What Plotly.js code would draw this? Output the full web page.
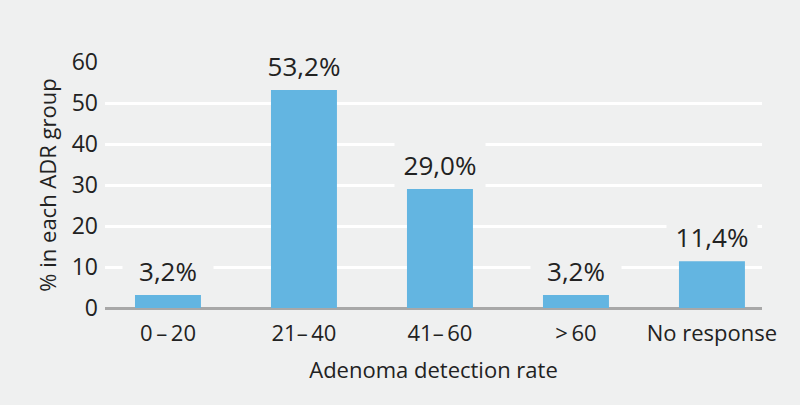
<!DOCTYPE html>
<html>
<head>
<meta charset="utf-8">
<script src="https://cdn.plot.ly/plotly-3.0.1.min.js"></script>
<style>html,body{margin:0;padding:0;background:#eff0f0;}</style>
</head>
<body>
<div id="chart" style="width:800px;height:405px;"></div>
<script>
var categories = ["0\u2009\u2013\u200920", "21\u2013\u200940", "41\u2013\u200960", ">\u200960", "No response"];
var values = [3.2, 53.2, 29.0, 3.2, 11.4];
var valueLabels = ["3,2%", "53,2%", "29,0%", "3,2%", "11,4%"];
var yTicks = [0, 10, 20, 30, 40, 50, 60];

var bg = "#eff0f0";
var textColor = "#222222";
var fontFam = "Open Sans, Noto Sans, sans-serif";

var trace = {
  type: "bar",
  x: categories,
  y: values,
  marker: {color: "#63b5e1"},
  hoverinfo: "none"
};

var annotations = categories.map(function (c, i) {
  return {
    x: c, y: values[i], xref: "x", yref: "y",
    text: valueLabels[i], showarrow: false,
    yanchor: "middle", yshift: 24,
    font: {family: fontFam, size: 26, color: textColor},
    bgcolor: bg, width: 80, borderpad: 5
  };
});

var layout = {
  width: 800, height: 405,
  paper_bgcolor: bg, plot_bgcolor: bg,
  margin: {l: 105, r: 38, t: 62, b: 97},
  bargap: 0.515,
  showlegend: false,
  font: {family: fontFam, color: textColor},
  xaxis: {
    type: "category",
    range: [-0.463, 4.368],
    showgrid: false,
    showline: false,
    ticks: "",
    ticklabelstandoff: 10,
    tickfont: {size: 22, color: textColor},
    title: {text: "Adenoma detection rate", font: {size: 22, color: textColor}, standoff: 16}
  },
  yaxis: {
    range: [0, 60],
    tickvals: yTicks,
    ticktext: yTicks.map(String),
    showgrid: true,
    gridcolor: "#ffffff",
    gridwidth: 3,
    zeroline: true,
    zerolinecolor: "#a8a8a8",
    zerolinewidth: 3,
    showline: false,
    ticks: "",
    ticklabelstandoff: 6,
    tickfont: {size: 23, color: textColor},
    title: {text: "% in each ADR group", font: {size: 22, color: textColor}, standoff: 8}
  },
  annotations: annotations
};

Plotly.newPlot("chart", [trace], layout, {displayModeBar: false, staticPlot: true});
</script>
</body>
</html>
